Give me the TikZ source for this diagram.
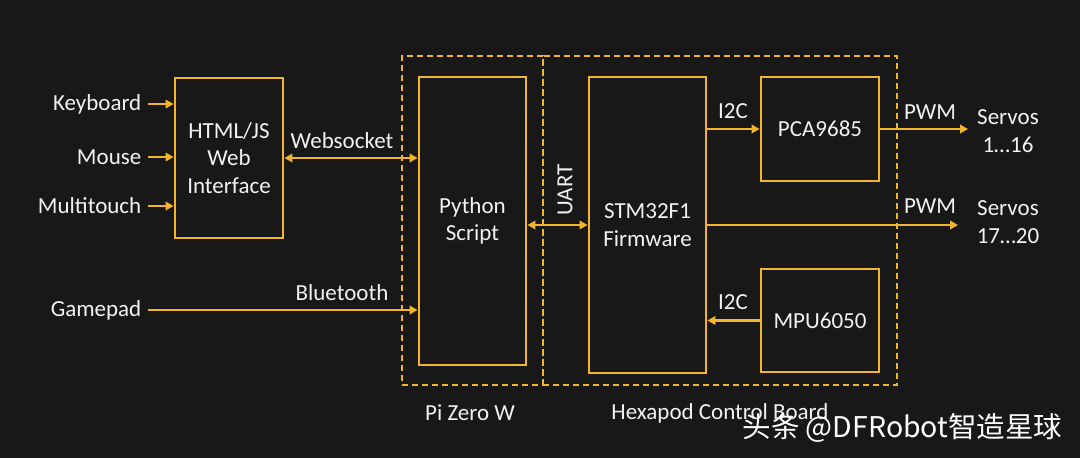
\documentclass[tikz,border=0pt]{standalone}
\usepackage{fontspec}
\setmainfont{Carlito}
\newfontfamily\cjkfont{Noto Sans CJK SC}
\usetikzlibrary{arrows.meta}
\definecolor{gold}{HTML}{F3B62B}
\definecolor{bgdark}{HTML}{181818}
\definecolor{txt}{HTML}{F2F2F2}

\begin{document}
\begin{tikzpicture}[x=1pt,y=-1pt,>={Triangle[length=8pt,width=8.5pt]},
  box/.style={draw=gold,line width=2.8pt,text=txt,align=center,font=\fontsize{23}{27.5}\selectfont},
  grp/.style={draw=gold,line width=2.8pt,dash pattern=on 6pt off 4pt},
  lbl/.style={text=txt,align=center,font=\fontsize{23}{27.5}\selectfont},
  wire/.style={gold,line width=2.7pt}]
\fill[bgdark] (0,0) rectangle (1080,458);
\useasboundingbox (0,0) rectangle (1080,458);

\node[grp,minimum width=141pt,minimum height=329pt] (pi) at (472.5,220.5) {};
\node[grp,minimum width=354pt,minimum height=329pt] (hexa) at (720,220.5) {};

\node[box,minimum width=108pt,minimum height=160pt] (html) at (229,158) {HTML/JS\\Web\\Interface};
\node[box,minimum width=107pt,minimum height=288pt] (py) at (472.5,221) {Python\\Script};
\node[box,minimum width=117pt,minimum height=296pt] (stm) at (647.5,225) {STM32F1\\Firmware};
\node[box,minimum width=118pt,minimum height=104pt] (pca) at (820,129) {PCA9685};
\node[box,minimum width=118pt,minimum height=103pt] (mpu) at (820,320.5) {MPU6050};

\node[lbl,anchor=east,inner xsep=6.5pt] (kbd) at (148,104) {Keyboard};
\node[lbl,anchor=east,inner xsep=6.5pt] (mouse) at (148,157) {Mouse};
\node[lbl,anchor=east,inner xsep=6.5pt] (touch) at (148,206) {Multitouch};
\node[lbl,anchor=east,inner xsep=6.5pt] (gpad) at (148,310) {Gamepad};

\node[lbl] (srv1) at (1008,131) {Servos\\1…16};
\node[lbl] (srv2) at (1008,222) {Servos\\17…20};
\coordinate (out1) at (968,129);
\coordinate (out2) at (958,225);

% link labels
\node[lbl] (ws) at (342,141) {Websocket};
\node[lbl] (bt) at (342,293) {Bluetooth};
\node[lbl,rotate=90] (uart) at (565,190) {UART};
\node[lbl] (i2ca) at (733,111) {I2C};
\node[lbl] (i2cb) at (733,302) {I2C};
\node[lbl] (pwma) at (930,112) {PWM};
\node[lbl] (pwmb) at (930,206) {PWM};

\node[lbl] (pilbl) at (470,413) {Pi Zero W};
\node[lbl] (hexlbl) at (720,413) {Hexapod Control Board};

\draw[->,wire] (kbd.east) -- (kbd.east -| html.west);
\draw[->,wire] (mouse.east) -- (mouse.east -| html.west);
\draw[->,wire] (touch.east) -- (touch.east -| html.west);
\draw[->,wire] (gpad.east) -- (gpad.east -| py.west);
\draw[<->,wire] (html.east) -- (html.east -| py.west);
\draw[<->,wire] (py.east |- stm.west) -- (stm.west);
\draw[->,wire] (pca.west -| stm.east) -- (pca.west);
\draw[->,wire] (mpu.west) -- (mpu.west -| stm.east);
\draw[->,wire] (pca.east) -- (out1);
\draw[->,wire] (stm.east) -- (out2);

\node[anchor=west,text=white,font=\cjkfont\fontsize{28.5}{30}\selectfont] (wm) at (739,428) {头条 @DFRobot智造星球};
\end{tikzpicture}
\end{document}
